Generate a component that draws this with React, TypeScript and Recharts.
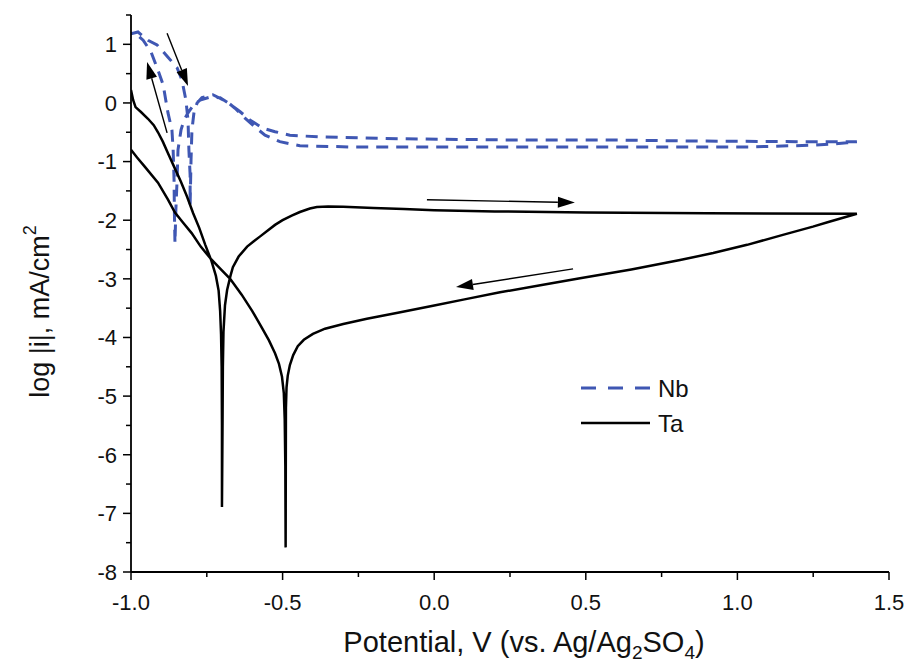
import React from 'react';
import { LineChart, Line, XAxis, YAxis, ReferenceLine, Legend, Label } from 'recharts';

type Pt = { e: number; logI: number };
const P = (e: number, logI: number): Pt => ({ e, logI });

// Ta: forward scan (-1.0 V -> 1.4 V)
const taForward: Pt[] = [
  P(-1.0, 0.22), P(-0.993, 0.05), P(-0.985, -0.07), P(-0.968, -0.15), P(-0.944, -0.27),
  P(-0.925, -0.38), P(-0.911, -0.5), P(-0.895, -0.66), P(-0.878, -0.86), P(-0.855, -1.12),
  P(-0.835, -1.35), P(-0.815, -1.6), P(-0.795, -1.88), P(-0.775, -2.13), P(-0.755, -2.42),
  P(-0.735, -2.69), P(-0.72, -2.95), P(-0.711, -3.2), P(-0.706, -3.55), P(-0.703, -3.95),
  P(-0.701, -4.5), P(-0.7, -5.5), P(-0.7, -6.89),
  P(-0.698, -5.4), P(-0.697, -4.5), P(-0.695, -3.9), P(-0.69, -3.45), P(-0.683, -3.19),
  P(-0.672, -2.95), P(-0.664, -2.8), P(-0.645, -2.62), P(-0.617, -2.45), P(-0.595, -2.36),
  P(-0.575, -2.28), P(-0.55, -2.18), P(-0.525, -2.08), P(-0.5, -2.0), P(-0.47, -1.92),
  P(-0.443, -1.86), P(-0.41, -1.8), P(-0.387, -1.775), P(-0.35, -1.765), P(-0.3, -1.77),
  P(-0.2, -1.79), P(-0.1, -1.81), P(0.0, -1.83), P(0.2, -1.85), P(0.5, -1.87),
  P(0.9, -1.88), P(1.394, -1.89),
];

// Ta: reverse scan (1.4 V -> -1.0 V)
const taReverse: Pt[] = [
  P(1.394, -1.89), P(1.3, -2.03), P(1.249, -2.11), P(1.15, -2.25), P(1.032, -2.42),
  P(0.92, -2.56), P(0.811, -2.68), P(0.65, -2.84), P(0.481, -2.99), P(0.35, -3.11),
  P(0.217, -3.23), P(0.1, -3.35), P(-0.004, -3.46), P(-0.12, -3.58), P(-0.222, -3.68),
  P(-0.3, -3.77), P(-0.36, -3.85), P(-0.4, -3.94), P(-0.43, -4.04), P(-0.45, -4.15),
  P(-0.465, -4.3), P(-0.476, -4.47), P(-0.483, -4.65), P(-0.487, -4.85), P(-0.489, -5.2),
  P(-0.49, -7.58),
  P(-0.491, -6.2), P(-0.493, -5.4), P(-0.496, -4.95), P(-0.502, -4.67), P(-0.512, -4.45),
  P(-0.525, -4.27), P(-0.545, -4.05), P(-0.57, -3.82), P(-0.6, -3.55), P(-0.635, -3.27),
  P(-0.673, -3.0), P(-0.705, -2.83), P(-0.735, -2.67), P(-0.77, -2.45), P(-0.8, -2.22),
  P(-0.83, -2.03), P(-0.855, -1.87), P(-0.878, -1.65), P(-0.911, -1.36), P(-0.954, -1.09),
  P(-0.98, -0.93), P(-1.0, -0.8),
];

// Nb: forward scan
const nbForward: Pt[] = [
  P(-1.0, 1.18), P(-0.977, 1.21), P(-0.944, 1.07), P(-0.914, 0.99), P(-0.878, 0.78),
  P(-0.848, 0.6), P(-0.832, 0.39), P(-0.819, 0.05), P(-0.812, -0.29), P(-0.809, -0.8),
  P(-0.805, -1.23), P(-0.805, -1.74),
  P(-0.802, -0.97), P(-0.799, -0.46), P(-0.792, -0.15), P(-0.782, 0.0), P(-0.766, 0.09),
  P(-0.73, 0.14), P(-0.683, 0.02), P(-0.657, -0.09), P(-0.624, -0.26), P(-0.591, -0.41),
  P(-0.558, -0.55), P(-0.509, -0.66), P(-0.443, -0.73), P(-0.278, -0.75), P(0.052, -0.75),
  P(0.547, -0.75), P(1.042, -0.75), P(1.249, -0.72), P(1.315, -0.7), P(1.361, -0.68),
  P(1.394, -0.66),
];

// Nb: reverse scan
const nbReverse: Pt[] = [
  P(1.394, -0.66), P(1.206, -0.66), P(0.877, -0.65), P(0.547, -0.63), P(0.217, -0.63),
  P(-0.113, -0.61), P(-0.377, -0.58), P(-0.476, -0.55), P(-0.525, -0.49), P(-0.565, -0.43),
  P(-0.608, -0.29), P(-0.64, -0.15), P(-0.673, -0.02), P(-0.706, 0.09), P(-0.739, 0.1),
  P(-0.772, 0.05), P(-0.796, -0.05), P(-0.812, -0.17), P(-0.825, -0.29), P(-0.835, -0.46),
  P(-0.845, -0.8), P(-0.848, -1.31), P(-0.852, -1.82), P(-0.855, -2.39),
  P(-0.857, -1.82), P(-0.858, -1.31), P(-0.861, -0.8), P(-0.865, -0.46), P(-0.878, -0.17),
  P(-0.894, 0.31), P(-0.911, 0.56), P(-0.934, 0.87), P(-0.96, 1.07), P(-0.984, 1.18),
  P(-1.0, 1.19),
];

const taData: Pt[] = [...taForward, ...taReverse];
const nbData: Pt[] = [...nbForward, ...nbReverse];

// scan-direction arrows: [start, end] in data coordinates
const arrowSegments: { x: number; y: number }[][] = [
  [{ x: -0.881, y: 1.19 }, { x: -0.812, y: 0.29 }],
  [{ x: -0.881, y: -0.51 }, { x: -0.947, y: 0.7 }],
  [{ x: -0.024, y: -1.65 }, { x: 0.464, y: -1.7 }],
  [{ x: 0.458, y: -2.83 }, { x: 0.072, y: -3.14 }],
];

const xTicks = [-1, -0.75, -0.5, -0.25, 0, 0.25, 0.5, 0.75, 1, 1.25, 1.5];
const xMajorLabels = ['-1.0', '-0.5', '0.0', '0.5', '1.0', '1.5'];
const yTicks = [-8, -7.5, -7, -6.5, -6, -5.5, -5, -4.5, -4, -3.5, -3, -2.5, -2, -1.5, -1, -0.5, 0, 0.5, 1, 1.5];
const yMajorLabels = ['-8', '-7', '-6', '-5', '-4', '-3', '-2', '-1', '0', '1'];

const seriesNames = ['Nb', 'Ta'];
const NB_COLOR = '#3F57B3';
const FONT = '"Liberation Sans", Arial, sans-serif';

const X_TICK_SIZE = 8;
const X_TICK_MARGIN = 4;
const Y_TICK_SIZE = 8;
const Y_TICK_MARGIN = 8;

const isMajorX = (v: number) => Math.abs(v * 2 - Math.round(v * 2)) < 1e-6;
const isMajorY = (v: number) => Math.abs(v - Math.round(v)) < 1e-6;

const XTick = (props: any) => {
  const { x, y, payload } = props;
  const v = payload.value as number;
  const axisY = y - X_TICK_SIZE - X_TICK_MARGIN;
  const major = isMajorX(v);
  const idx = Math.round((v + 1) * 2);
  return (
    <g>
      <line x1={x} x2={x} y1={axisY} y2={axisY + (major ? 8 : 5)} stroke="#000" strokeWidth={1.5} />
      {major && (
        <text x={x} y={axisY + 21} dy="0.75em" textAnchor="middle" fontSize={22} fontFamily={FONT} fill="#111">
          {xMajorLabels[idx]}
        </text>
      )}
    </g>
  );
};

const YTick = (props: any) => {
  const { x, y, payload } = props;
  const v = payload.value as number;
  const axisX = x + Y_TICK_SIZE + Y_TICK_MARGIN;
  const major = isMajorY(v);
  const idx = Math.round(v + 8);
  return (
    <g>
      <line x1={axisX - (major ? 8 : 5)} x2={axisX} y1={y} y2={y} stroke="#000" strokeWidth={1.5} />
      {major && (
        <text x={axisX - 14} y={y} dy="0.36em" textAnchor="end" fontSize={22} fontFamily={FONT} fill="#111">
          {yMajorLabels[idx]}
        </text>
      )}
    </g>
  );
};

const ArrowShape = (p: any) => {
  const { x1, y1, x2, y2 } = p;
  const ang = Math.atan2(y2 - y1, x2 - x1);
  const L = 17;
  const W = 5.5;
  const bx = x2 - L * Math.cos(ang);
  const by = y2 - L * Math.sin(ang);
  const px = -Math.sin(ang) * W;
  const py = Math.cos(ang) * W;
  return (
    <g>
      <line x1={x1} y1={y1} x2={bx} y2={by} stroke="#000" strokeWidth={1.4} />
      <polygon points={`${x2},${y2} ${bx + px},${by + py} ${bx - px},${by - py}`} fill="#000" />
    </g>
  );
};

const LegendContent = () => (
  <svg width={160} height={80} style={{ overflow: 'visible' }}>
    <line x1={3} x2={72} y1={18} y2={18} stroke={NB_COLOR} strokeWidth={3} strokeDasharray="15 12" />
    <text x={80} y={27} fontSize={24} fontFamily={FONT} fill="#111">{seriesNames[0]}</text>
    <line x1={3} x2={72} y1={53} y2={53} stroke="#000" strokeWidth={2.5} />
    <text x={80} y={62} fontSize={24} fontFamily={FONT} fill="#111">{seriesNames[1]}</text>
  </svg>
);

const YLabel = (props: any) => {
  const vb = props.viewBox || { x: 0, y: 0, width: 0, height: 0 };
  const cx = vb.x - 11;
  const cy = vb.y + vb.height / 2 + 18;
  return (
    <text
      x={cx}
      y={cy}
      transform={`rotate(-90, ${cx}, ${cy})`}
      textAnchor="middle"
      dominantBaseline="central"
      fontSize={27}
      fontFamily={FONT}
      fill="#111"
    >
      log |i|, mA/cm<tspan dy={-10} fontSize={18}>2</tspan>
    </text>
  );
};

const XLabel = (props: any) => {
  const vb = props.viewBox || { x: 0, y: 0, width: 0, height: 0 };
  const cx = vb.x + vb.width / 2 + 14;
  const cy = vb.y + 80;
  return (
    <text x={cx} y={cy} textAnchor="middle" fontSize={29} fontFamily={FONT} fill="#111">
      Potential, V (vs. Ag/Ag<tspan dy={7} fontSize={19}>2</tspan>
      <tspan dy={-7}>SO</tspan>
      <tspan dy={7} fontSize={19}>4</tspan>
      <tspan dy={-7}>)</tspan>
    </text>
  );
};

export default function App() {
  return (
    <div style={{ width: 907, height: 665, background: '#fff' }}>
      <style>{'body{margin:0;overflow:hidden;}'}</style>
      <LineChart width={907} height={665} margin={{ top: 15, right: 18, bottom: 43, left: 51 }}>
        <XAxis
          type="number"
          dataKey="e"
          domain={[-1, 1.5]}
          ticks={xTicks}
          interval={0}
          allowDataOverflow
          height={50}
          tickSize={X_TICK_SIZE}
          tickMargin={X_TICK_MARGIN}
          tickLine={false}
          tick={<XTick />}
          axisLine={{ stroke: '#000', strokeWidth: 1.8 }}
        >
          <Label content={<XLabel />} />
        </XAxis>
        <YAxis
          type="number"
          dataKey="logI"
          domain={[-8, 1.5]}
          ticks={yTicks}
          interval={0}
          allowDataOverflow
          width={80}
          tickSize={Y_TICK_SIZE}
          tickMargin={Y_TICK_MARGIN}
          tickLine={false}
          tick={<YTick />}
          axisLine={{ stroke: '#000', strokeWidth: 1.8 }}
        >
          <Label content={<YLabel />} />
        </YAxis>
        <Line
          data={nbData}
          dataKey="logI"
          name={seriesNames[0]}
          type="linear"
          stroke={NB_COLOR}
          strokeWidth={3}
          strokeDasharray="12 8"
          dot={false}
          activeDot={false}
          isAnimationActive={false}
        />
        <Line
          data={taData}
          dataKey="logI"
          name={seriesNames[1]}
          type="linear"
          stroke="#000"
          strokeWidth={2.5}
          dot={false}
          activeDot={false}
          isAnimationActive={false}
        />
        {arrowSegments.map((seg, i) => (
          <ReferenceLine key={i} segment={seg} ifOverflow="visible" shape={ArrowShape} />
        ))}
        <Legend
          layout="horizontal"
          align="center"
          verticalAlign="middle"
          content={<LegendContent />}
          wrapperStyle={{ left: 578, top: 370, width: 160, height: 80 }}
        />
      </LineChart>
    </div>
  );
}
